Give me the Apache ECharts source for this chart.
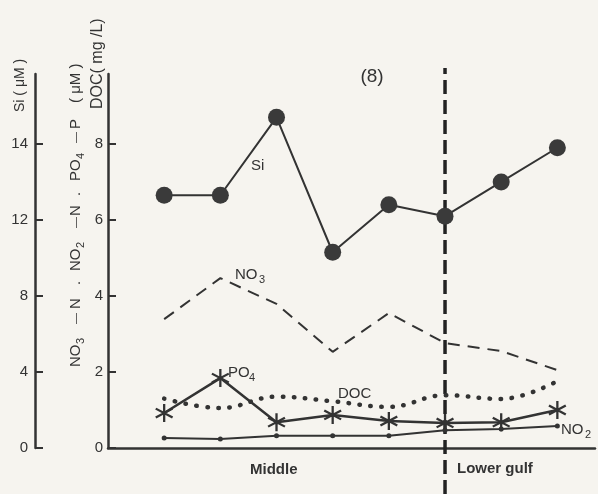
<!DOCTYPE html>
<html>
<head>
<meta charset="utf-8">
<script src="https://cdn.jsdelivr.net/npm/echarts@6/dist/echarts.min.js"></script>
<style>
html,body{margin:0;padding:0;background:#f6f4ef;}
#chart{width:598px;height:494px;}
</style>
</head>
<body>
<div id="chart"></div>
<script>
// Stations along the gulf (x positions)
var stations = [1, 2, 3, 4, 5, 6, 7, 8];
// Si (uM) on the left-most axis scale
var si = [13.3, 13.3, 17.4, 10.3, 12.8, 12.2, 14.0, 15.8];
// NO3-N (uM)
var no3 = [3.39, 4.47, 3.79, 2.53, 3.55, 2.76, 2.55, 2.05];
// PO4-P (uM)
var po4 = [0.92, 1.84, 0.68, 0.87, 0.71, 0.66, 0.68, 1.0];
// DOC (mg/L)
var doc = [1.3, 1.05, 1.35, 1.23, 1.08, 1.39, 1.29, 1.76];
// NO2-N (uM)
var no2 = [0.26, 0.24, 0.32, 0.32, 0.32, 0.47, 0.5, 0.58];
// Boundary between Middle and Lower gulf
var boundaryStation = 6;
// Tick values and labels
var innerTicks = [0, 2, 4, 6, 8];
var siTicks = [0, 4, 8, 12, 16];
var siTickLabels = {0: '0', 4: '4', 8: '8', 12: '12', 16: '14'};

function pairs(ys) { return stations.map(function (x, i) { return [x, ys[i]]; }); }

var ink = '#333333';
var font = 'Liberation Sans, Arial, sans-serif';
var starPath = 'path://M8.8 0L11.2 0L11.2 20L8.8 20ZM0.6 6.1L1.8 4.0L19.4 13.9L18.2 16.0ZM1.8 16.0L0.6 13.9L18.2 4.0L19.4 6.1Z';

function txt(x, y, s, size, extra) {
  return {type: 'text', x: x, y: y, style: {text: s, font: (extra || '') + size + 'px ' + font, fill: ink, align: 'left', verticalAlign: 'middle'}};
}
// label with subscript: base text then smaller lowered digit
function subLabel(x, y, base, sub, size, baseW) {
  return [txt(x, y, base, size), txt(x + baseW, y + size * 0.35, sub, Math.round(size * 0.75))];
}
// rotated y-axis title (reads bottom to top); local x runs upward from (gx, gy)
function rotTitle(gx, gy, parts) {
  return {
    type: 'group', x: gx, y: gy, rotation: Math.PI / 2,
    children: parts.map(function (p) {
      return {type: 'text', x: p[0], y: p[2] || 0, style: {text: p[1], font: (p[3] || 15) + 'px ' + font, fill: ink, align: 'left', verticalAlign: 'middle'}};
    })
  };
}

var chart = echarts.init(document.getElementById('chart'));
chart.setOption({
  animation: false,
  backgroundColor: '#f6f4ef',
  grid: [
    {left: 108, right: 3, top: 74, bottom: 46},
    {left: 108, right: 3, top: 68, bottom: 0}
  ],
  xAxis: [
    {
      type: 'value', min: 0, max: 8.67, gridIndex: 0,
      axisLine: {lineStyle: {color: ink, width: 2.5}},
      axisTick: {show: false}, axisLabel: {show: false}, splitLine: {show: false}
    },
    {type: 'value', min: 0, max: 8.67, gridIndex: 1, show: false}
  ],
  yAxis: [
    {
      type: 'value', min: 0, max: 9.84, position: 'left', gridIndex: 0,
      axisLine: {show: true, lineStyle: {color: ink, width: 2.5}},
      axisTick: {show: true, inside: true, length: 8, customValues: innerTicks, lineStyle: {color: ink, width: 2}},
      axisLabel: {color: ink, fontSize: 15, fontFamily: font, margin: 5, customValues: innerTicks},
      splitLine: {show: false}
    },
    {
      type: 'value', min: 0, max: 19.68, position: 'left', offset: 73, gridIndex: 0,
      axisLine: {show: true, lineStyle: {color: ink, width: 2.5}},
      axisTick: {show: true, inside: true, length: 8, customValues: siTicks, lineStyle: {color: ink, width: 2}},
      axisLabel: {color: ink, fontSize: 15, fontFamily: font, margin: 7, customValues: siTicks,
        formatter: function (v) { return siTickLabels[v]; }},
      splitLine: {show: false}
    },
    {type: 'value', min: 0, max: 1, gridIndex: 1, show: false}
  ],
  series: [
    {
      name: 'boundary', type: 'line', xAxisIndex: 1, yAxisIndex: 2, symbol: 'none', silent: true,
      data: [[boundaryStation, 0], [boundaryStation, 1]],
      lineStyle: {color: '#222', width: 3.5, type: [14, 6]}
    },
    {
      name: 'Si', type: 'line', yAxisIndex: 1, data: pairs(si),
      symbol: 'circle', symbolSize: 17,
      itemStyle: {color: '#3a3a3a'},
      lineStyle: {color: ink, width: 2}
    },
    {
      name: 'NO3', type: 'line', data: pairs(no3), symbol: 'none',
      lineStyle: {color: ink, width: 2, type: [12, 8]}
    },
    {
      name: 'DOC', type: 'line', data: pairs(doc), symbol: 'none', smooth: 0.4,
      lineStyle: {color: ink, width: 4.5, type: [0.5, 10.5], cap: 'round'}
    },
    {
      name: 'PO4', type: 'line', data: pairs(po4),
      symbol: starPath, symbolSize: 18,
      itemStyle: {color: ink},
      lineStyle: {color: ink, width: 2.5}
    },
    {
      name: 'NO2', type: 'line', data: pairs(no2),
      symbol: 'circle', symbolSize: 5,
      itemStyle: {color: ink},
      lineStyle: {color: ink, width: 2}
    }
  ],
  graphic: [].concat(
    [{type: 'text', x: 372, y: 77, style: {text: '(8)', font: '19px ' + font, fill: ink, align: 'center', verticalAlign: 'middle'}}],
    [txt(251, 166, 'Si', 15)],
    subLabel(235, 275, 'NO', '3', 15, 24),
    subLabel(228, 373, 'PO', '4', 15, 21),
    [txt(338, 394, 'DOC', 15)],
    subLabel(561, 430, 'NO', '2', 15, 24),
    [txt(250, 470, 'Middle', 15, 'bold ')],
    [txt(457, 469, 'Lower gulf', 15, 'bold ')],
    [rotTitle(20, 112, [[0, 'Si ( μM )', 0, 14]])],
    [rotTitle(98, 109, [[0, 'DOC( mg /L)', 0, 16]])],
    [rotTitle(76, 367, [
      [0, 'NO'], [23, '3', 5, 11], [43, '—', 0, 11], [58, 'N'],
      [82, '.'], [96, 'NO'], [119, '2', 5, 11], [139, '—', 0, 11], [151, 'N'],
      [171, '.'], [186, 'PO'], [208, '4', 5, 11], [224, '—', 0, 11], [238, 'P'],
      [264, '( μM )', 0, 15]
    ])]
  )
});
</script>
</body>
</html>
